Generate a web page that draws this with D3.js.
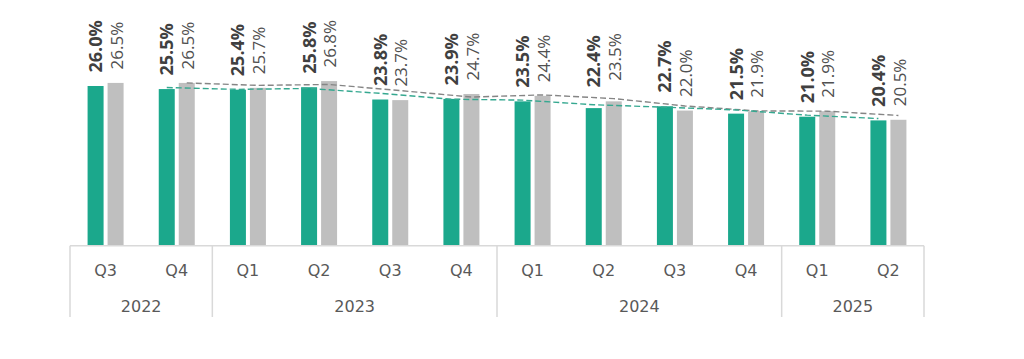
<!DOCTYPE html>
<html>
<head>
<meta charset="utf-8">
<script src="https://cdn.jsdelivr.net/npm/d3@7"></script>
<style>
  html, body { margin: 0; padding: 0; background: #ffffff; }
  svg { display: block; }
</style>
</head>
<body>
<svg id="chart" width="1024" height="359"></svg>
<script>
// ---- data ----
const quarters = ["Q3", "Q4", "Q1", "Q2", "Q3", "Q4", "Q1", "Q2", "Q3", "Q4", "Q1", "Q2"];
const years = ["2022", "2023", "2024", "2025"];
const quartersPerYear = [2, 4, 4, 2];
const seriesA = [26.0, 25.5, 25.4, 25.8, 23.8, 23.9, 23.5, 22.4, 22.7, 21.5, 21.0, 20.4];
const seriesB = [26.5, 26.5, 25.7, 26.8, 23.7, 24.7, 24.4, 23.5, 22.0, 21.9, 21.9, 20.5];
const labelLift = [0, 0, 0, 0, 0, 0, 0, 7, 0, 0, 0, 0];

// ---- layout ----
const svg = d3.select("#chart");
const left = 70, right = 924, baseY = 245.7, sepBottom = 317;
const green = "#1ba88c", grey = "#bfbfbf";

const idx = d3.range(quarters.length);
const x = d3.scaleBand().domain(idx).range([left, right]).padding(0);
const y = d3.scaleLinear().domain([0, 40]).range([baseY, 0]);
const barW = 16, gap = 2;
const cx = i => x(i) + x.bandwidth() / 2;
const gx = i => cx(i) - gap - barW / 2;   // green bar center
const sx = i => cx(i) + gap + barW / 2;   // grey bar center

// bars
svg.append("g").selectAll("rect").data(seriesA).join("rect")
  .attr("x", (d, i) => gx(i) - barW / 2).attr("width", barW)
  .attr("y", d => y(d)).attr("height", d => baseY - y(d))
  .attr("fill", green);
svg.append("g").selectAll("rect").data(seriesB).join("rect")
  .attr("x", (d, i) => sx(i) - barW / 2).attr("width", barW)
  .attr("y", d => y(d)).attr("height", d => baseY - y(d))
  .attr("fill", grey);

// 2-period moving average trendlines
function movingAvg(arr) {
  const out = [];
  for (let i = 1; i < arr.length; i++) out.push({ i, v: (arr[i - 1] + arr[i]) / 2 });
  return out;
}
const lineA = d3.line().x(d => gx(d.i)).y(d => y(d.v));
const lineB = d3.line().x(d => sx(d.i)).y(d => y(d.v));
svg.append("path").datum(movingAvg(seriesB)).attr("d", lineB)
  .attr("fill", "none").attr("stroke", "#858585").attr("stroke-width", 1.4)
  .attr("stroke-dasharray", "6,3");
svg.append("path").datum(movingAvg(seriesA)).attr("d", lineA)
  .attr("fill", "none").attr("stroke", "#35a890").attr("stroke-width", 1.4)
  .attr("stroke-dasharray", "6,3");

// value labels (rotated)
const fmt = d => d.toFixed(1) + "%";
svg.append("g").selectAll("text").data(seriesA).join("text")
  .attr("transform", (d, i) => `translate(${gx(i)},${y(d) - 13.5 - labelLift[i]}) rotate(-90)`)
  .attr("dy", "0.36em")
  .attr("font-family", "'Open Sans', sans-serif").attr("font-size", 18)
  .attr("font-weight", "bold").attr("fill", "#404040")
  .text(fmt);
svg.append("g").selectAll("text").data(seriesB).join("text")
  .attr("transform", (d, i) => `translate(${sx(i) + 1},${y(d) - 13.5 - labelLift[i]}) rotate(-90)`)
  .attr("dy", "0.36em")
  .attr("font-family", "'Open Sans', sans-serif").attr("font-size", 17)
  .attr("fill", "#505050")
  .text(fmt);

// axis: baseline
const axisG = svg.append("g");
axisG.append("line").attr("x1", left).attr("x2", right).attr("y1", baseY).attr("y2", baseY)
  .attr("stroke", "#d9d9d9").attr("stroke-width", 1.5);

// year separators
let acc = 0;
const bounds = [0];
quartersPerYear.forEach(n => { acc += n; bounds.push(acc); });
axisG.selectAll("line.sep").data(bounds).join("line").attr("class", "sep")
  .attr("x1", b => b < quarters.length ? x(b) : right)
  .attr("x2", b => b < quarters.length ? x(b) : right)
  .attr("y1", baseY).attr("y2", sepBottom)
  .attr("stroke", "#d9d9d9").attr("stroke-width", 1.5);

// quarter labels
axisG.selectAll("text.q").data(quarters).join("text").attr("class", "q")
  .attr("x", (d, i) => cx(i)).attr("y", 276)
  .attr("text-anchor", "middle")
  .attr("font-family", "'DejaVu Sans', sans-serif").attr("font-size", 16)
  .attr("fill", "#595959").text(d => d);

// year labels
axisG.selectAll("text.y").data(years).join("text").attr("class", "y")
  .attr("x", (d, k) => {
    const a = bounds[k], b = bounds[k + 1];
    const xa = x(a), xb = b < quarters.length ? x(b) : right;
    return (xa + xb) / 2;
  })
  .attr("y", 312)
  .attr("text-anchor", "middle")
  .attr("font-family", "'DejaVu Sans', sans-serif").attr("font-size", 16)
  .attr("fill", "#595959").text(d => d);
</script>
</body>
</html>
